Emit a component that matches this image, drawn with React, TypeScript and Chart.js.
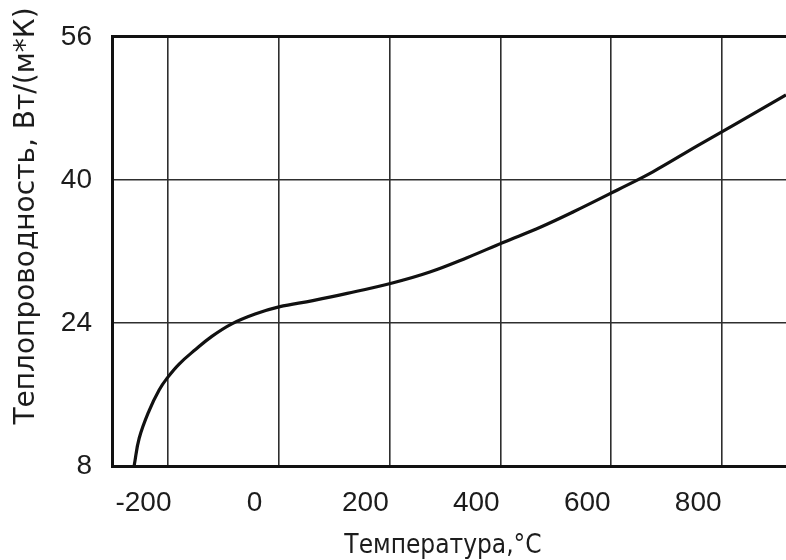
import { useEffect, useRef } from "react";
import { Chart, registerables } from "chart.js";

Chart.register(...registerables);

// Thermal conductivity vs temperature
const temperatureC = [-260, -251, -233, -215, -201, -179, -150, -120, -84, -42, 1, 62, 124, 207, 273, 340, 405, 472, 531, 612, 675, 755, 823, 915];
const conductivity = [8.05, 11.1, 14.2, 16.5, 17.8, 19.4, 21.0, 22.5, 23.9, 25.0, 25.8, 26.5, 27.3, 28.5, 29.7, 31.3, 33.0, 34.7, 36.4, 38.9, 40.9, 43.8, 46.2, 49.5];

const xTicks = [-200, 0, 200, 400, 600, 800];
const yTicks = [8, 24, 40, 56];
const xMin = -300;
const xMax = 915;
const yMin = 8;
const yMax = 56;

const xTitle = "Температура,°C";
const yTitle = "Теплопроводность, Вт/(м*К)";

const INK = "#1c1c1c";
const GRID = "#2e2e2e";

// Draws both axis titles on the canvas with explicit placement
const axisTitles = {
  id: "axisTitles",
  afterDraw(chart: any) {
    const ctx = chart.ctx as CanvasRenderingContext2D;
    ctx.save();
    ctx.fillStyle = INK;
    ctx.textAlign = "center";
    ctx.textBaseline = "alphabetic";

    ctx.font = "28px 'DejaVu Sans'";
    ctx.save();
    ctx.translate(34, 216);
    ctx.rotate(-Math.PI / 2);
    ctx.fillText(yTitle, 0, 0);
    ctx.restore();

    ctx.font = "26px 'DejaVu Sans Condensed', 'DejaVu Sans'";
    ctx.fillText(xTitle, 443, 553);
    ctx.restore();
  },
};

export default function App() {
  const canvasRef = useRef<HTMLCanvasElement | null>(null);

  useEffect(() => {
    const canvas = canvasRef.current;
    if (!canvas) return;

    const chart = new Chart(canvas, {
      type: "scatter",
      data: {
        datasets: [
          {
            data: temperatureC.map((x, i) => ({ x, y: conductivity[i] })),
            showLine: true,
            borderColor: "#111",
            borderWidth: 3.2,
            pointRadius: 0,
            pointHoverRadius: 0,
            tension: 0.4,
            fill: false,
          },
        ],
      },
      options: {
        responsive: false,
        animation: false,
        events: [],
        layout: { padding: { top: 35, left: 0, right: 0, bottom: 0 } },
        plugins: {
          legend: { display: false },
          tooltip: { enabled: false },
        },
        scales: {
          x: {
            type: "linear",
            min: xMin,
            max: xMax,
            afterBuildTicks: (scale: any) => {
              scale.ticks = xTicks.map((value) => ({ value }));
            },
            afterFit: (scale: any) => {
              scale.height = 94;
            },
            grid: { color: GRID, lineWidth: 1.6, drawTicks: false },
            border: { display: true, color: "#111", width: 3 },
            ticks: {
              padding: 20,
              labelOffset: -24,
              color: INK,
              maxRotation: 0,
              autoSkip: false,
              font: { family: "'Liberation Sans'", size: 28 },
            },
          },
          y: {
            type: "linear",
            min: yMin,
            max: yMax,
            afterBuildTicks: (scale: any) => {
              scale.ticks = yTicks.map((value) => ({ value }));
            },
            afterFit: (scale: any) => {
              scale.width = 112;
            },
            grid: {
              color: (c: any) => (c.tick && c.tick.value === yMax ? "#111" : GRID),
              lineWidth: (c: any) => (c.tick && c.tick.value === yMax ? 3 : 1.6),
              drawTicks: false,
            },
            border: { display: true, color: "#111", width: 3 },
            ticks: {
              padding: 20,
              color: INK,
              autoSkip: false,
              font: { family: "'Liberation Sans'", size: 28 },
            },
          },
        },
      },
      plugins: [axisTitles],
    } as any);

    return () => chart.destroy();
  }, []);

  return (
    <div style={{ width: 786, height: 560, background: "#fff" }}>
      <style>{`html,body{margin:0;padding:0;background:#fff;}`}</style>
      <canvas ref={canvasRef} width={786} height={560} style={{ display: "block" }} />
    </div>
  );
}
